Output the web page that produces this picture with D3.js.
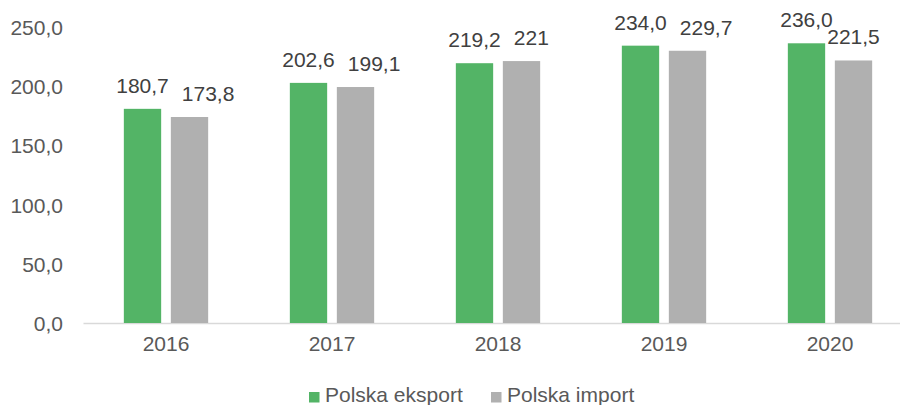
<!DOCTYPE html>
<html lang="pl">
<head>
    <meta charset="UTF-8">
    <script src="https://cdn.jsdelivr.net/npm/d3@7"></script>
    <title>Polska eksport / import</title>
    <style>
        body { margin: 0; background: #fff; }
        svg { font-family: Arial, "Liberation Sans", sans-serif; display: block; }
    </style>
</head>
<body>
    <svg id="chart" width="900" height="405"></svg>

    <script>
        // dane z wykresu
        const years = ['2016', '2017', '2018', '2019', '2020'];
        const eksport = [180.7, 202.6, 219.2, 234.0, 236.0];
        const importy = [173.8, 199.1, 221, 229.7, 221.5];
        const importLabels = ['173,8', '199,1', '221', '229,7', '221,5'];
        const seriesNames = ['Polska eksport', 'Polska import'];
        const yTicks = [0, 50, 100, 150, 200, 250];

        const colors = ['#53b466', '#b0b0b0'];
        const fmt = v => d3.format('.1f')(v).replace('.', ',');

        const svg = d3.select('#chart');

        const x = d3.scaleBand()
            .domain(years)
            .range([83, 913])
            .paddingInner(0.492)
            .paddingOuter(0.246);

        const xs = d3.scaleBand()
            .domain([0, 1])
            .range([0, x.bandwidth()])
            .paddingInner(0.206);

        const y = d3.scaleLinear()
            .domain([0, 250])
            .range([323, 26.7]);

        // oś Y - tylko etykiety
        const yAxis = svg.append('g')
            .attr('transform', 'translate(63,0)')
            .call(d3.axisLeft(y).tickValues(yTicks).tickSize(0).tickPadding(0).tickFormat(fmt));
        yAxis.select('.domain').remove();
        yAxis.selectAll('text')
            .attr('font-size', 21)
            .attr('fill', '#595959')
            .attr('dy', '0.36em');

        // oś X
        const xAxis = svg.append('g')
            .attr('transform', 'translate(0,323)')
            .call(d3.axisBottom(x).tickSize(0).tickPadding(12));
        xAxis.select('.domain')
            .attr('stroke', '#d9d9d9')
            .attr('stroke-width', 1.5);
        xAxis.selectAll('text')
            .attr('font-size', 21)
            .attr('fill', '#595959')
            .attr('dy', '0.78em');

        const data = years.map((yr, i) => ({
            year: yr,
            vals: [
                { s: 0, v: eksport[i], label: fmt(eksport[i]) },
                { s: 1, v: importy[i], label: importLabels[i] }
            ]
        }));

        const groups = svg.selectAll('g.year')
            .data(data)
            .enter().append('g')
            .attr('class', 'year')
            .attr('transform', d => 'translate(' + x(d.year) + ',0)');

        groups.selectAll('rect')
            .data(d => d.vals)
            .enter().append('rect')
            .attr('x', d => xs(d.s))
            .attr('width', xs.bandwidth())
            .attr('y', d => y(d.v))
            .attr('height', d => y(0) - y(d.v))
            .attr('fill', d => colors[d.s]);

        groups.selectAll('text.val')
            .data(d => d.vals)
            .enter().append('text')
            .attr('class', 'val')
            .attr('x', d => xs(d.s) + xs.bandwidth() / 2)
            .attr('y', d => y(d.v) - 16)
            .attr('text-anchor', 'middle')
            .attr('font-size', 21)
            .attr('fill', '#404040')
            .text(d => d.label);

        // etykiety importu przesuwamy w prawo, gdy nachodzą na etykietę eksportu (jak w Excelu)
        groups.each(function() {
            const labels = d3.select(this).selectAll('text.val').nodes();
            const a = labels[0].getBBox(), b = labels[1].getBBox();
            const vOverlap = Math.abs(a.y - b.y) < 15;
            if (vOverlap && b.x < a.x + a.width + 13) {
                const shift = a.x + a.width + 13 - b.x;
                d3.select(labels[1]).attr('x', +d3.select(labels[1]).attr('x') + shift);
            }
        });

        // legenda
        const legendX = [309, 491];
        const legend = svg.selectAll('g.legend')
            .data(seriesNames)
            .enter().append('g')
            .attr('class', 'legend')
            .attr('transform', (d, i) => 'translate(' + legendX[i] + ',0)');
        legend.append('rect')
            .attr('x', 0)
            .attr('y', 392)
            .attr('width', 10.5)
            .attr('height', 10.5)
            .attr('fill', (d, i) => colors[i]);
        legend.append('text')
            .attr('x', 16)
            .attr('y', 402)
            .attr('font-size', 21)
            .attr('fill', '#595959')
            .text(d => d);
    </script>
</body>
</html>
